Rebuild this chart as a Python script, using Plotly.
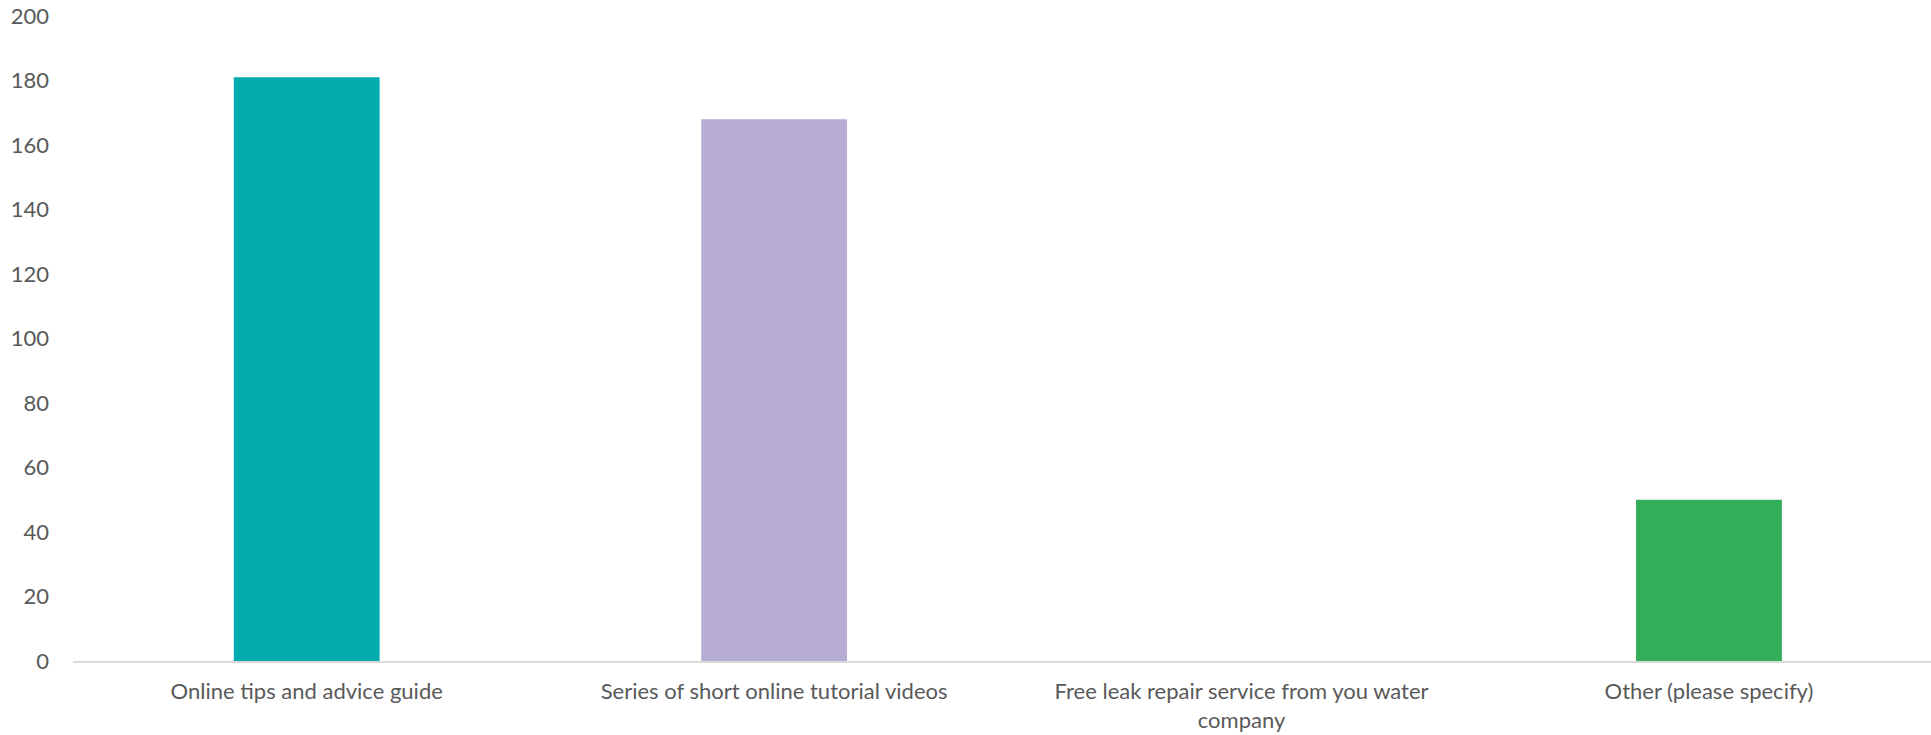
import plotly.graph_objects as go

categories = [
    "Online tips and advice guide",
    "Series of short online tutorial videos",
    "Free leak repair service from you water company",
    "Other (please specify)",
]
tick_labels = [
    "Online tips and advice guide",
    "Series of short online tutorial videos",
    "Free leak repair service from you water<br>company",
    "Other (please specify)",
]
values = [181, 168, 0, 50]
colors = ["#02ABAE", "#B7ACD3", "#A5A5A5", "#33AE58"]

fig = go.Figure(
    go.Bar(x=categories, y=values, marker=dict(color=colors, line=dict(width=0)), width=0.312)
)

font_family = "Lato, 'Open Sans', sans-serif"
fig.update_layout(
    width=1931,
    height=735,
    margin=dict(l=73, r=0, t=16, b=74, autoexpand=False),
    paper_bgcolor="white",
    plot_bgcolor="white",
    showlegend=False,
    font=dict(family=font_family, size=22, color="#595959"),
)
fig.update_xaxes(
    tickmode="array",
    tickvals=categories,
    ticktext=tick_labels,
    range=[-0.5, 3.475],
    showline=True,
    linecolor="#D9D9D9",
    linewidth=1.5,
    showgrid=False,
    ticks="",
    automargin=False,
    ticklabelstandoff=10,
    tickfont=dict(size=22, color="#595959"),
)
fig.update_yaxes(
    range=[0, 200],
    tickvals=[0, 20, 40, 60, 80, 100, 120, 140, 160, 180, 200],
    showgrid=False,
    showline=False,
    zeroline=False,
    ticks="",
    automargin=False,
    ticklabelstandoff=23,
    tickfont=dict(size=22, color="#595959"),
)

fig.write_html(
    "out.html",
    config={"displayModeBar": False},
    post_script="document.body.style.margin='0';document.body.style.overflow='hidden';",
)
